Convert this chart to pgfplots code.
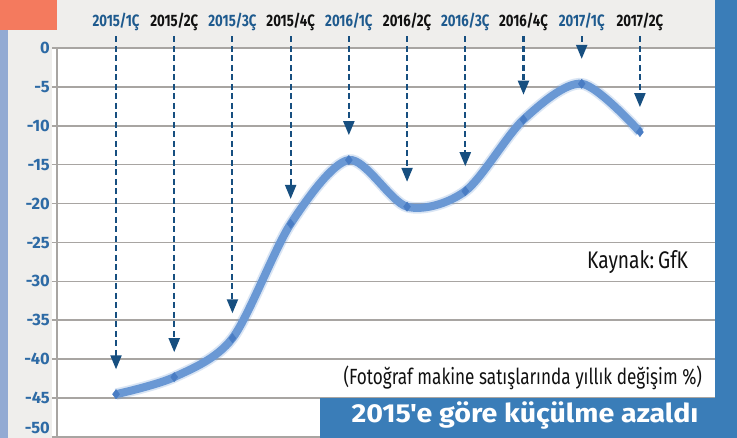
\documentclass[border=0pt]{standalone}
\usepackage{pgfplots}
\pgfplotsset{compat=1.18}
\usepackage{fontspec}
\setmainfont{Fira Sans}
\newfontfamily\condfont{Fira Sans}[FakeStretch=0.80]
\newfontfamily\kayfont{Fira Sans}[FakeStretch=0.80]
\newfontfamily\subfont{Fira Sans}[FakeStretch=0.78]
\newfontfamily\titlefont{Fira Sans}[FakeStretch=1.10]
\usetikzlibrary{arrows.meta}
\definecolor{bggray}{HTML}{EFEEEC}
\definecolor{salmon}{HTML}{F47A5E}
\definecolor{stripL}{HTML}{92AAD3}
\definecolor{stripR}{HTML}{3A7DB8}
\definecolor{gridgray}{HTML}{A8A5A2}
\definecolor{tickblue}{HTML}{2D6AA5}
\definecolor{labblue}{HTML}{1E5A8E}
\definecolor{labblack}{HTML}{111111}
\definecolor{arrowblue}{HTML}{174F80}
\definecolor{lineblue}{HTML}{6A98D4}
\definecolor{markblue}{HTML}{4A7DC4}
\pgfplotstableread{
x y
0 -44.5
1 -42.3
2 -37.3
3 -22.6
4 -14.4
5 -20.4
6 -18.4
7 -9.2
8 -4.6
9 -10.8
}\datatable
\pgfplotstableread{
x y v
0 1.5 -42.8
1 1.5 -40.6
2 1.5 -35.6
3 1.5 -20.9
4 1.5 -12.7
5 1.5 -18.7
6 1.5 -16.7
7 1.5 -7.5
8 1.5 -2.9
9 1.5 -9.1
}\arrowtable
\begin{document}
\begin{tikzpicture}
\useasboundingbox (0pt,0pt) rectangle (737pt,438pt);
\fill[bggray] (0pt,0pt) rectangle (737pt,438pt);
\fill[white] (52pt,0pt) rectangle (715pt,390pt);
\fill[salmon] (0pt,408pt) rectangle (57pt,438pt);
\fill[stripL] (0pt,0pt) rectangle (8pt,408pt);
\fill[stripR] (715pt,0pt) rectangle (737pt,438pt);
\begin{axis}[
  at={(57pt,1pt)}, anchor=south west,
  scale only axis, width=658pt, height=389pt,
  xmin=-1.014, xmax=10.29, ymin=-50, ymax=0,
  clip=false,
  separate axis lines,
  axis x line=none,
  axis y line*=left,
  y axis line style={draw=gridgray, line width=1.8pt, -},
  xtick=\empty,
  ytick={0,-5,-10,-15,-20,-25,-30,-35,-40,-45},
  extra y ticks={-50},
  extra y tick style={yticklabel style={yshift=9pt}},
  ymajorgrids,
  grid style={gridgray, line width=1.6pt},
  tick align=outside,
  major tick length=5pt,
  ytick style={gridgray, line width=1.6pt},
  /pgf/number format/assume math mode=true,
  yticklabel style={font=\fontsize{16.5}{18}\selectfont\bfseries, text=tickblue, inner sep=2pt},
]
\addplot[smooth, line width=11.5pt, color=lineblue, opacity=0.25] table[x=x,y=y] {\datatable};
\addplot[smooth, line width=8pt, color=lineblue, mark=diamond*, mark options={fill=markblue, draw=markblue, line width=0.5pt, scale=2.3}] table[x=x,y=y] {\datatable};
\addplot[arrowblue, line width=2.1pt, dash pattern=on 6pt off 3.5pt,
  quiver={u=0, v=\thisrow{v}},
  -{Triangle[length=14pt, width=11pt]}] table[x=x,y=y] {\arrowtable};
\begin{scope}[every node/.style={font=\condfont\fontsize{16.5}{18}\selectfont\bfseries, anchor=center}]
\node[text=labblue] at (axis cs:0,3.3) {2015/1Ç};
\node[text=labblack] at (axis cs:1,3.3) {2015/2Ç};
\node[text=labblue] at (axis cs:2,3.3) {2015/3Ç};
\node[text=labblack] at (axis cs:3,3.3) {2015/4Ç};
\node[text=labblue] at (axis cs:4,3.3) {2016/1Ç};
\node[text=labblack] at (axis cs:5,3.3) {2016/2Ç};
\node[text=labblue] at (axis cs:6,3.3) {2016/3Ç};
\node[text=labblack] at (axis cs:7,3.3) {2016/4Ç};
\node[text=labblue] at (axis cs:8,3.3) {2017/1Ç};
\node[text=labblack] at (axis cs:9,3.3) {2017/2Ç};
\end{scope}
\node[anchor=base east, font=\kayfont\fontsize{24}{26}\selectfont, text=labblack, inner sep=0pt] at (axis cs:9.83,-28.4) {Kaynak:\,GfK};
\node[anchor=base east, font=\subfont\fontsize{22}{24}\selectfont, text=labblack, inner sep=0pt] at (axis cs:10.07,-43.3) {(Fotoğraf makine satışlarında yıllık değişim \%)};
\end{axis}
\fill[stripR] (320pt,0pt) rectangle (715pt,40pt);
\node[anchor=base, font=\titlefont\fontsize{26}{30}\selectfont\bfseries, text=white, inner sep=0pt] at (525pt,15pt) {2015'e göre küçülme azaldı};
\end{tikzpicture}
\end{document}
